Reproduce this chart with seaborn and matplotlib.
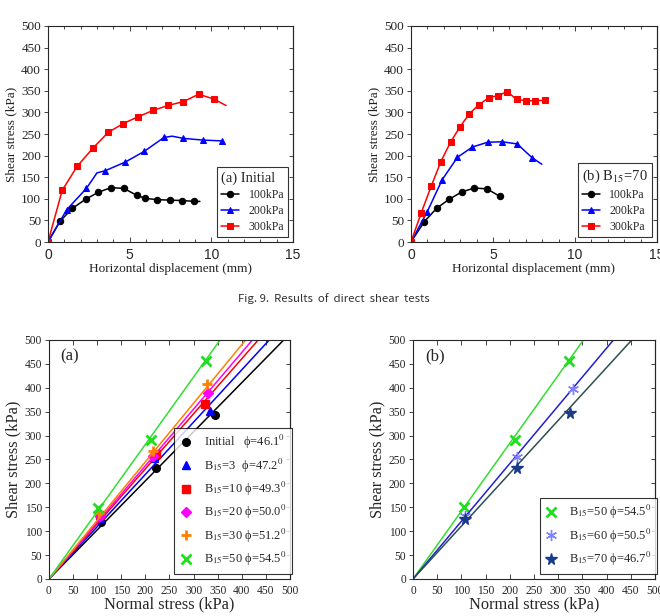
import numpy as np
import pandas as pd
import matplotlib
matplotlib.use("Agg")
import matplotlib.pyplot as plt
from matplotlib.ticker import MultipleLocator
import seaborn as sns

# ---------------- data ----------------
# (a) Initial : displacement (mm) / shear stress (kPa)
d100a = [0, 0.73, 1.5, 2.3, 3.08, 3.85, 4.65, 5.44, 5.96, 6.7, 7.48, 8.23, 8.96, 9.3]
s100a = [0, 48, 78, 99, 115, 126, 124, 108, 101, 98, 97, 96, 94, 94]
d200a = [0, 1.15, 2.35, 3.0, 3.5, 4.73, 5.9, 7.1, 7.6, 8.27, 9.48, 10.67]
s200a = [0, 75, 124, 160, 165, 185, 210, 242, 245, 240, 236, 234]
d300a = [0, 0.875, 1.8, 2.77, 3.69, 4.6, 5.52, 6.46, 7.35, 8.29, 9.23, 10.15, 10.9]
s300a = [0, 120, 176, 218, 254, 274, 290, 305, 316, 325, 342, 331, 316]
mk100a = [0, 1, 2, 3, 4, 5, 6, 7, 8, 9, 10, 11, 12]
mk200a = [0, 1, 2, 4, 5, 6, 7, 9, 10, 11]
mk300a = [0, 1, 2, 3, 4, 5, 6, 7, 8, 9, 10, 11]

# (b) B15=70
d100b = [0, 0.81, 1.56, 2.33, 3.1, 3.87, 4.64, 5.4]
s100b = [0, 47, 78, 99, 116, 125, 123, 106]
d200b = [0, 0.99, 1.9, 2.83, 3.75, 4.68, 5.57, 6.48, 7.39, 7.98]
s200b = [0, 70, 144, 196, 220, 231, 232, 227, 195, 180]
d300b = [0, 0.63, 1.23, 1.82, 2.41, 2.98, 3.56, 4.15, 4.74, 5.3, 5.87, 6.44, 7.02, 7.59, 8.18]
s300b = [0, 68, 129, 186, 231, 266, 297, 318, 334, 339, 348, 330, 327, 327, 328]
mk100b = [0, 1, 2, 3, 4, 5, 6, 7]
mk200b = [0, 1, 2, 3, 4, 5, 6, 7, 8]
mk300b = list(range(15))

normal_labels = ["100kPa", "200kPa", "300kPa"]

# failure envelopes (a)
env_a_names = ["Initial", "B15=3", "B15=10", "B15=20", "B15=30", "B15=50"]
env_a_phi = ["46.1", "47.2", "49.3", "50.0", "51.2", "54.5"]
env_a_x = [[108, 221, 344], [106, 218, 335], [106, 223, 323],
           [105, 216, 330], [104, 216, 328], [101, 211, 325]]
env_a_y = [[120, 233, 343], [127, 254, 352], [134, 262, 366],
           [132, 258, 389], [138, 267, 407], [148, 291, 457]]
env_a_top = [487, 457, 434, 422, 408, 355]   # x where fitted line reaches 500 kPa

# failure envelopes (b)
env_b_names = ["B15=50", "B15=60", "B15=70"]
env_b_phi = ["54.5", "50.5", "46.7"]
env_b_x = [[105, 210, 322], [107, 214, 330], [108, 214, 325]]
env_b_y = [[150, 291, 457], [132, 256, 397], [125, 232, 347]]
env_b_top = [352, 414, 452]

# ---------------- style ----------------
sns.set_style("ticks")
plt.rcParams["font.family"] = ["Liberation Serif", "DejaVu Serif"]
plt.rcParams["mathtext.fontset"] = "stix"
plt.rcParams["axes.linewidth"] = 0.8

fig = plt.figure(figsize=(6.6, 6.16), dpi=100)
fig.patch.set_facecolor("white")

ax1 = fig.add_axes([0.0727, 0.6071, 0.3712, 0.3507])
ax2 = fig.add_axes([0.6227, 0.6071, 0.3727, 0.3507])
ax3 = fig.add_axes([0.0742, 0.0601, 0.3652, 0.3880])
ax4 = fig.add_axes([0.6258, 0.0601, 0.3667, 0.3880])

SERIF = ["Liberation Serif", "DejaVu Serif"]
SANS = ["Liberation Sans", "DejaVu Sans"]


def frame_ticks(ax, xlab_size, ylab_size, xfamily):
    ax.tick_params(axis="x", which="both", direction="in", top=True,
                   bottom=True, labelsize=xlab_size, width=0.6, pad=4)
    ax.tick_params(axis="x", which="major", length=3.5)
    ax.tick_params(axis="x", which="minor", length=2)
    ax.tick_params(axis="y", which="both", direction="out", left=True,
                   right=False, labelsize=ylab_size, width=0.6, length=3,
                   pad=2)
    for t in ax.get_xticklabels():
        t.set_family(xfamily)
    sec = ax.secondary_yaxis("right")
    sec.yaxis.set_major_locator(MultipleLocator(50))
    sec.tick_params(direction="in", length=3, width=0.6, labelright=False)
    sec.spines["right"].set_linewidth(0.8)


# ---------- top curves ----------
curve_cols = ["#000000", "#0000FF", "#FF0000"]
curve_mk = ["o", "^", "s"]


def curves(ax, series, title):
    for (d, s, mk), c, m, lab in zip(series, curve_cols, curve_mk, normal_labels):
        df = pd.DataFrame({"d": d, "s": s})
        sns.lineplot(data=df, x="d", y="s", ax=ax, color=c, marker=m,
                     markevery=mk, markersize=4.6, markeredgecolor=c,
                     linewidth=1.1, label=lab, sort=False)
    ax.set_xlim(0, 15)
    ax.set_ylim(0, 500)
    ax.xaxis.set_major_locator(MultipleLocator(5))
    ax.xaxis.set_minor_locator(MultipleLocator(1))
    ax.yaxis.set_major_locator(MultipleLocator(50))
    frame_ticks(ax, 10, 9.5, SANS)
    ax.set_xlabel("Horizontal displacement (mm)", fontsize=9.5, labelpad=1,
                  color="#222222")
    ax.set_ylabel("Shear stress (kPa)", fontsize=9.5, labelpad=3,
                  color="#222222")
    leg = ax.legend(title=title, loc="lower right", fontsize=8.5,
                    title_fontsize=10.5, frameon=True, fancybox=False,
                    edgecolor="black", borderaxespad=0.4, handlelength=1.5,
                    labelspacing=0.35, borderpad=0.35, handletextpad=0.8)
    leg.get_frame().set_linewidth(0.8)
    leg._legend_box.align = "left"


curves(ax1, [(d100a, s100a, mk100a), (d200a, s200a, mk200a),
             (d300a, s300a, mk300a)], "(a) Initial")
curves(ax2, [(d100b, s100b, mk100b), (d200b, s200b, mk200b),
             (d300b, s300b, mk300b)], "(b) B$_{15}$=70")

# ---------- envelopes ----------


def label_of(name, phi):
    if name == "Initial":
        return "Initial   \u03d5=" + phi + "$^0$"
    num = name.split("=")[1]
    gap = "  " if len(num) == 1 else " "
    return "B$_{15}$=" + num + gap + "\u03d5=" + phi + "$^0$"


def envelopes(ax, names, phis, xs, ys, tops, line_cols, mk_cols, markers,
              msizes, mews, tag, tagx):
    for n, p, x, y, t, lc, mc, m, ms, mew in zip(names, phis, xs, ys, tops,
                                                  line_cols, mk_cols, markers,
                                                  msizes, mews):
        sns.lineplot(x=[0, t], y=[0, 500], ax=ax, color=lc, linewidth=1.1,
                     legend=False)
        ax.plot(x, y, linestyle="none", marker=m, color=mc, markersize=ms,
                markeredgewidth=mew, markeredgecolor=mc,
                label=label_of(n, p))
    ax.set_xlim(0, 500)
    ax.set_ylim(0, 500)
    ax.xaxis.set_major_locator(MultipleLocator(50))
    ax.yaxis.set_major_locator(MultipleLocator(50))
    frame_ticks(ax, 8.3, 8.3, SERIF)
    ax.set_xlabel("Normal stress (kPa)", fontsize=11.8, labelpad=0)
    ax.set_ylabel("Shear stress (kPa)", fontsize=11.8, labelpad=2)
    ax.text(tagx, 0.93, tag, transform=ax.transAxes, fontsize=12,
            ha="left", va="center")
    leg = ax.legend(loc="lower right", bbox_to_anchor=(1.008, 0.022),
                    fontsize=9.0, frameon=True,
                    fancybox=False, edgecolor="black", borderaxespad=0.0,
                    handlelength=0.9, labelspacing=0.42, borderpad=0.45,
                    handletextpad=1.0)
    leg.get_frame().set_linewidth(0.8)


envelopes(ax3, env_a_names, env_a_phi, env_a_x, env_a_y, env_a_top,
          ["#000000", "#0000FF", "#FF0000", "#FF00FF", "#FF8000", "#33DD33"],
          ["#000000", "#0000FF", "#FF0000", "#FF00FF", "#FF8000", "#22DD22"],
          ["o", "^", "s", "D", "+", "x"],
          [5.5, 5.5, 5.5, 4.6, 7.5, 6.5], [1, 1, 1, 1, 2.0, 2.0], "(a)", 0.045)

envelopes(ax4, env_b_names, env_b_phi, env_b_x, env_b_y, env_b_top,
          ["#33DD33", "#2020D0", "#2F4F4F"],
          ["#22DD22", "#8080FF", "#1A3A8A"],
          ["x", (6, 2, 0), "*"],
          [6.5, 8, 8.5], [2.0, 1.0, 1.0], "(b)", 0.05)

fig.text(0.506, 0.516, "Fig. 9.  Results  of  direct  shear  tests",
         ha="center", va="center", fontsize=8.2, color="#333333",
         family=["Noto Sans CJK KR", "DejaVu Sans"])

fig.savefig("out.png", dpi=100, facecolor="white")
